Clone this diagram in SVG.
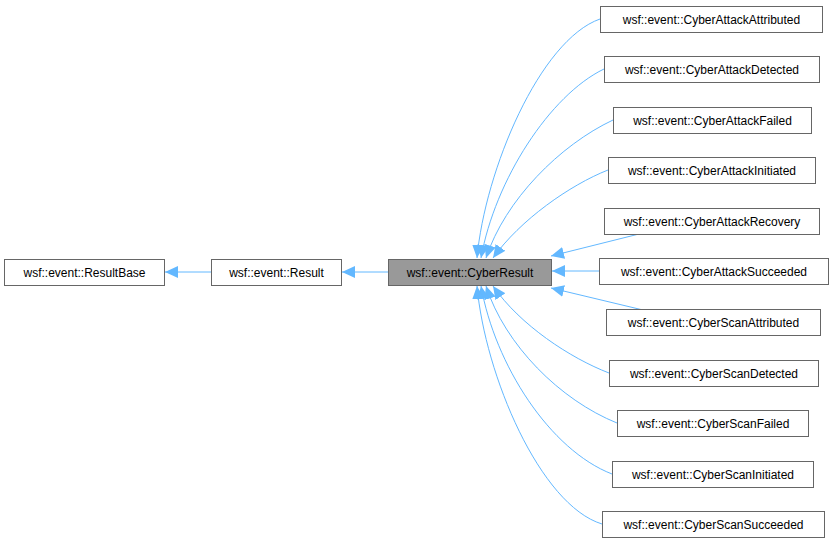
<svg xmlns="http://www.w3.org/2000/svg" width="833" height="544" viewBox="0 0 833 544">
<style>
.n rect{fill:#fff;stroke:#666;stroke-width:1}
.n text{font-family:"Liberation Sans",Arial,sans-serif;font-size:12px;fill:#000;text-anchor:middle}
.e path{fill:none;stroke:#63b8ff;stroke-width:1;marker-end:url(#a)}
</style>
<defs><marker id="a" markerUnits="userSpaceOnUse" markerWidth="14" markerHeight="12" refX="13" refY="6" orient="auto"><path d="M0,0L13,6L0,12Z" fill="#63b8ff"/></marker></defs>
<rect width="833" height="544" fill="#fff"/>
<g class="e">
<path d="M211,272H165"/>
<path d="M388,272H342"/>
<path d="M600,19C540,40 485,170 477,258"/>
<path d="M604,69C550,95 495,180 481,258"/>
<path d="M613,120C560,145 505,200 486,258"/>
<path d="M608,170C570,185 520,220 493,258"/>
<path d="M643,233L551,256"/>
<path d="M599,271H552"/>
<path d="M643,310L551,288"/>
<path d="M609,373C570,358 520,325 493,286"/>
<path d="M617,423C560,400 505,345 486,286"/>
<path d="M612,474C550,450 495,365 481,286"/>
<path d="M602,524C540,505 485,375 477,286"/>
</g>
<g id="ResultBase" class="n"><rect x="4.5" y="259.5" width="160" height="26"/><text x="84.5" y="276.5">wsf::event::ResultBase</text></g>
<g id="Result" class="n"><rect x="211.5" y="259.5" width="130" height="26"/><text x="276.5" y="276.5">wsf::event::Result</text></g>
<g id="CyberResult" class="n"><rect x="388.5" y="259.5" width="163" height="26" style="fill:#999"/><text x="470" y="276.5">wsf::event::CyberResult</text></g>
<g id="n1" class="n"><rect x="600.5" y="6.5" width="222" height="26"/><text x="711.5" y="23.5">wsf::event::CyberAttackAttributed</text></g>
<g id="n2" class="n"><rect x="604.5" y="56.5" width="215" height="26"/><text x="712" y="73.5">wsf::event::CyberAttackDetected</text></g>
<g id="n3" class="n"><rect x="613.5" y="107.5" width="198" height="26"/><text x="712.5" y="124.5">wsf::event::CyberAttackFailed</text></g>
<g id="n4" class="n"><rect x="608.5" y="157.5" width="207" height="26"/><text x="712" y="174.5">wsf::event::CyberAttackInitiated</text></g>
<g id="n5" class="n"><rect x="604.5" y="208.5" width="215" height="26"/><text x="712" y="225.5">wsf::event::CyberAttackRecovery</text></g>
<g id="n6" class="n"><rect x="599.5" y="258.5" width="229" height="26"/><text x="714" y="275.5">wsf::event::CyberAttackSucceeded</text></g>
<g id="n7" class="n"><rect x="606.5" y="309.5" width="214" height="26"/><text x="713.5" y="326.5">wsf::event::CyberScanAttributed</text></g>
<g id="n8" class="n"><rect x="609.5" y="360.5" width="209" height="26"/><text x="714" y="377.5">wsf::event::CyberScanDetected</text></g>
<g id="n9" class="n"><rect x="617.5" y="410.5" width="191" height="26"/><text x="713" y="427.5">wsf::event::CyberScanFailed</text></g>
<g id="n10" class="n"><rect x="612.5" y="461.5" width="201" height="26"/><text x="713" y="478.5">wsf::event::CyberScanInitiated</text></g>
<g id="n11" class="n"><rect x="602.5" y="511.5" width="222" height="26"/><text x="713.5" y="528.5">wsf::event::CyberScanSucceeded</text></g>
</svg>
